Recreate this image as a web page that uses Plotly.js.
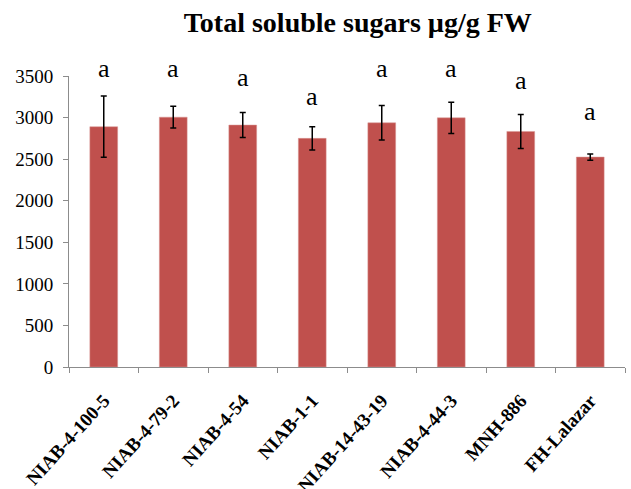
<!DOCTYPE html>
<html>
<head>
<meta charset="utf-8">
<script src="https://cdn.plot.ly/plotly-3.0.1.min.js"></script>
<style>html,body{margin:0;padding:0;background:#fff;}#chart{width:631px;height:489px;}</style>
</head>
<body>
<div id="chart"></div>
<script>
var categories = ["NIAB-4-100-5", "NIAB-4-79-2", "NIAB-4-54", "NIAB-1-1", "NIAB-14-43-19", "NIAB-4-44-3", "MNH-886", "FH-Lalazar"];
var sugarValues = [2890, 3005, 2910, 2750, 2937, 2997, 2833, 2525];
var errorValues = [368, 130, 150, 140, 208, 188, 204, 38];
var letters = ["a", "a", "a", "a", "a", "a", "a", "a"];
var letterY = [3595, 3595, 3485, 3255, 3595, 3595, 3450, 3070];
var yTicks = [0, 500, 1000, 1500, 2000, 2500, 3000, 3500];
var yMax = 3500;

var serif = "Liberation Serif";

var trace = {
  type: "bar",
  x: categories,
  y: sugarValues,
  width: 0.4,
  marker: {color: "#C0504D", line: {color: "#D99795", width: 0.5}},
  error_y: {type: "data", array: errorValues, visible: true, color: "#000000", thickness: 1.5, width: 3},
  hoverinfo: "none"
};

var annotations = categories.map(function(c, i) {
  return {x: c, y: letterY[i] / yMax, xref: "x", yref: "paper", text: letters[i], showarrow: false,
    yanchor: "middle",
    font: {family: serif, size: 26, color: "#000"}};
});

var layout = {
  width: 631, height: 489,
  margin: {l: 69, r: 6, t: 76, b: 122},
  paper_bgcolor: "#fff", plot_bgcolor: "#fff",
  showlegend: false,
  title: {text: "<b>Total soluble sugars µg/g FW</b>", x: 0.567, xanchor: "center", y: 0.995, yanchor: "top",
    pad: {t: 10},
    font: {family: serif, size: 28, color: "#000"}},
  xaxis: {
    type: "category", showline: true, linecolor: "#8c8c8c", linewidth: 1,
    ticks: "outside", tickson: "boundaries", ticklen: 5, tickcolor: "#8c8c8c",
    tickangle: -48, showgrid: false, zeroline: false, ticklabelstandoff: 14,
    tickfont: {family: serif, size: 19, color: "#000", weight: "bold"},
    range: [-0.5, 7.5]
  },
  yaxis: {
    range: [0, yMax], tickvals: yTicks, ticktext: yTicks.map(String),
    showline: true, linecolor: "#8c8c8c", linewidth: 1,
    ticks: "outside", ticklen: 5, tickcolor: "#8c8c8c",
    showgrid: false, zeroline: false, ticklabelstandoff: 6,
    tickfont: {family: serif, size: 19, color: "#000"}
  },
  annotations: annotations
};

Plotly.newPlot("chart", [trace], layout, {displayModeBar: false, staticPlot: true});
</script>
</body>
</html>
